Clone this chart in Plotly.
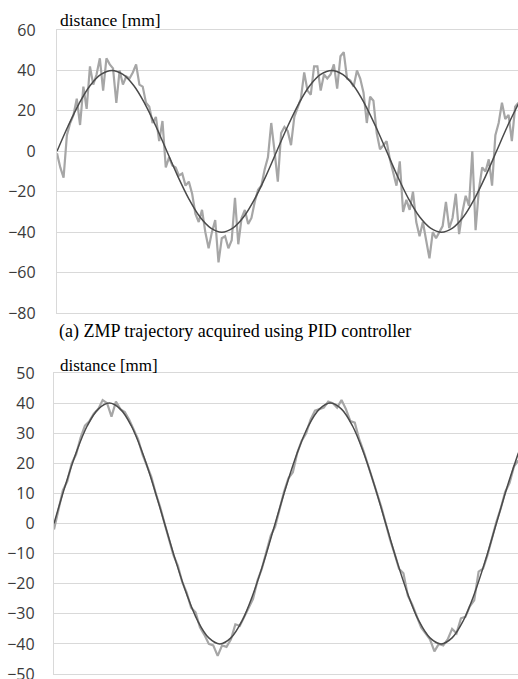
import numpy as np
import plotly.graph_objects as go

# ---------------- data ----------------
# (a) PID controller: measured ZMP (noisy), sampled every 1.5 time units
pid_measured = [-1, -8, -13, 8, 14, 18, 26, 13, 32, 21, 42, 33, 38, 46, 30, 46, 43, 41, 24, 40,
                33, 37, 36, 39, 43, 33, 32, 24, 22, 14, 17, 5, 15, -8, -3, -7, -8, -12, -11, -17,
                -15, -21, -31, -35,
                -29, -40, -48, -40, -34, -55, -43, -42, -48, -44, -23, -46, -33, -29, -36, -33,
                -25, -19, -17, -9, -3, 14, 0, -15, 9, 12, 10, 3, 17, 22, 26, 39, 30, 28, 42, 42,
                30, 38, 36, 38, 43, 31,
                47, 49, 36, 35, 32, 40, 36, 29, 14, 27, 25, 9, 1, 3, 5, -4, -11, -17, -5, -30,
                -24, -29, -20, -35, -42, -35, -44, -53, -40, -43, -40, -37, -25, -38, -33, -21,
                -41, -30, -22, -27, 0, -39, -19, -8, -10, -4, -17, 8, 14, 24, 16, 18, 5, 22, 24]
pid_step = 1.5

# reference ZMP trajectory (smooth), sampled every 5 time units
reference_top = [0, 12.4, 23.5, 32.4, 38.0, 40, 38.0, 32.4, 23.5, 12.4,
                 0, -12.4, -23.5, -32.4, -38.0, -40, -38.0, -32.4, -23.5, -12.4,
                 0, 12.4, 23.5, 32.4, 38.0, 40, 38.0, 32.4, 23.5, 12.4,
                 0, -12.4, -23.5, -32.4, -38.0, -40, -38.0, -32.4, -23.5, -12.4,
                 0, 12.4, 23.5]
reference_bottom = list(reference_top)
ref_step = 5

# (b) second controller: measured ZMP, sampled every 2 time units
ctrl_measured = [-2, 5, 11, 14, 20, 23, 28.5, 32.5, 34, 36.5, 38, 41, 40, 35.5, 40.5, 38, 37, 34.5,
                 31, 28, 23, 19.5, 15.5, 10, 5.5, 0, -5, -10.5, -14, -19.5, -23, -28, -29.5, -34.5,
                 -37, -40, -40.5, -44, -40.5, -41, -38.5, -33.5, -34, -31, -27.5, -25, -19, -15,
                 -9.5, -4, -1, 4.5, 10.5, 15, 17, 23.5, 27.5, 30, 34.5, 37.5, 38, 38.5, 40.5, 40,
                 38.5, 41, 38, 34, 33.5, 28, 24, 19.5, 14.5, 10, 5.5, 0, -5.5, -10, -15, -16.5,
                 -24, -27, -31, -34.5, -36.5, -38.5, -42.5, -40, -40.5, -38.5, -35, -36.5, -31.5,
                 -31, -27.5, -25.5, -16, -15, -10.5, -5, 0.5, 5, 10.5, 13.5, 19, 21]
ctrl_step = 2

top_ticks = [60, 40, 20, 0, -20, -40, -60, -80]
bottom_ticks = [50, 40, 30, 20, 10, 0, -10, -20, -30, -40, -50]
y_label = "distance [mm]"
caption_a = "(a) ZMP trajectory acquired using PID controller"

# ---------------- figure ----------------
W, H = 518, 679
GRID = "#d9d9d9"
NOISY = "#a6a6a6"
DARK = "#4a4a4a"
TICKFONT = dict(family="Open Sans, Liberation Sans, sans-serif", size=16, color="#3a3a3a")
SERIF = "Liberation Serif, Times New Roman, serif"

x_pid = np.arange(len(pid_measured)) * pid_step
x_ref_top = np.arange(len(reference_top)) * ref_step
x_ref_bot = np.arange(len(reference_bottom)) * ref_step
x_ctrl = np.arange(len(ctrl_measured)) * ctrl_step

fig = go.Figure()
fig.add_trace(go.Scatter(x=x_pid, y=pid_measured, mode="lines",
                         line=dict(color=NOISY, width=2.2), xaxis="x", yaxis="y",
                         showlegend=False, hoverinfo="skip"))
fig.add_trace(go.Scatter(x=x_ref_top, y=reference_top, mode="lines",
                         line=dict(color=DARK, width=1.5, shape="spline"), xaxis="x", yaxis="y",
                         showlegend=False, hoverinfo="skip"))
fig.add_trace(go.Scatter(x=x_ctrl, y=ctrl_measured, mode="lines",
                         line=dict(color=NOISY, width=2.2), xaxis="x2", yaxis="y2",
                         showlegend=False, hoverinfo="skip"))
fig.add_trace(go.Scatter(x=x_ref_bot, y=reference_bottom, mode="lines",
                         line=dict(color=DARK, width=1.5, shape="spline"), xaxis="x2", yaxis="y2",
                         showlegend=False, hoverinfo="skip"))

xcommon = dict(showticklabels=False, showgrid=False, zeroline=False,
               showline=True, linecolor=GRID, linewidth=1.3, mirror=True,
               ticks="", range=[0, 209.8], fixedrange=True)
ycommon = dict(showgrid=True, gridcolor=GRID, gridwidth=1.3, zeroline=False,
               showline=True, linecolor=GRID, linewidth=1.3,
               ticks="outside", tickcolor="rgba(0,0,0,0)", tickfont=TICKFONT,
               ticklabeloverflow="allow", automargin=False, fixedrange=True)

fig.update_layout(
    width=W, height=H,
    margin=dict(l=0, r=0, t=0, b=0),
    paper_bgcolor="white", plot_bgcolor="white",
    xaxis=dict(domain=[57 / W, 1], anchor="y", **xcommon),
    yaxis=dict(domain=[(H - 313) / H, (H - 30) / H], anchor="x", range=[-80, 60],
               tickvals=top_ticks, ticklen=17, **ycommon),
    xaxis2=dict(domain=[54 / W, 1], anchor="y2", **xcommon),
    yaxis2=dict(domain=[(H - 674) / H, (H - 373) / H], anchor="x2", range=[-50, 50],
                tickvals=bottom_ticks, ticklen=15, **ycommon),
    annotations=[
        dict(text=y_label, xref="paper", yref="paper", x=58 / W, y=(H - 20) / H,
             xanchor="left", yanchor="middle", showarrow=False,
             font=dict(family=SERIF, size=17.5, color="black")),
        dict(text=caption_a, xref="paper", yref="paper", x=57 / W, y=(H - 331) / H,
             xanchor="left", yanchor="middle", showarrow=False,
             font=dict(family=SERIF, size=18, color="black")),
        dict(text=y_label, xref="paper", yref="paper", x=58 / W, y=(H - 365) / H,
             xanchor="left", yanchor="middle", showarrow=False,
             font=dict(family=SERIF, size=17, color="black")),
    ],
)

fig.write_html("out.html")
